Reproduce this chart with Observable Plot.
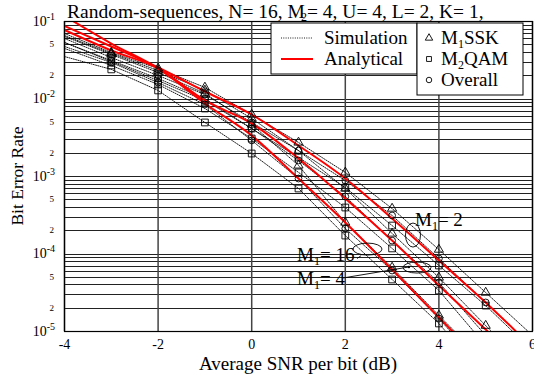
<!DOCTYPE html>
<html><head><meta charset="utf-8">
<script src="https://cdn.jsdelivr.net/npm/d3@7"></script>
<script src="https://cdn.jsdelivr.net/npm/@observablehq/plot@0.6"></script>
<style>
html,body{margin:0;padding:0;background:#fff;}
#chart{width:534px;height:381px;position:relative;}
</style></head><body><div id="chart"></div>
<script>
// ---------- data ----------
const snr = [-4, -3, -2, -1, 0, 1, 2, 3, 4, 5, 6];
const markerRange = [-3, 5];
const m1Values = [2, 4, 16];

// analytical curves
const analyticM1_2  = [0.0875, 0.0476, 0.0255, 0.0125, 0.00631, 0.00251, 9.42e-4, 2.87e-4, 8.24e-5, 2.37e-5, 6.2e-6];
const analyticM1_4  = [0.0777, 0.0423, 0.0248, 0.00957, 0.00483, 0.00171, 5.2e-4, 1.49e-4, 3.93e-5, 1.06e-5, 2.9e-6];
const analyticM1_16 = [0.118, 0.052, 0.0248, 0.00875, 0.00338, 9.4e-4, 2.55e-4, 6.3e-5, 1.52e-5, 3.6e-6, 8e-7];

// simulation curves
const simM1_2_SSK     = [0.070, 0.0398, 0.0248, 0.0141, 0.00631, 0.00275, 0.00113, 3.86e-4, 1.14e-4, 3.18e-5, 8.9e-6];
const simM1_2_Overall = [0.0604, 0.0343, 0.0201, 0.0114, 0.00498, 0.00216, 8.88e-4, 3.14e-4, 8.75e-5, 2.37e-5, 6.3e-6];
const simM1_2_QAM     = [0.0536, 0.0305, 0.0173, 0.00957, 0.00416, 0.00176, 7.21e-4, 2.33e-4, 7.11e-5, 2.16e-5, 5.7e-6];
const simM1_4_SSK     = [0.0659, 0.0387, 0.0233, 0.0129, 0.00560, 0.00216, 7.0e-4, 1.84e-4, 4.98e-5, 1.19e-5, 3.0e-6];
const simM1_4_Overall = [0.0536, 0.0314, 0.0184, 0.0101, 0.00416, 0.00161, 5.52e-4, 1.49e-4, 4.29e-5, 8.9e-6, 2.2e-6];
const simM1_4_QAM     = [0.0449, 0.0271, 0.0154, 0.00754, 0.00309, 0.00113, 3.98e-4, 1.18e-4, 3.38e-5, 6.6e-6, 1.6e-6];
const simM1_16_SSK    = [0.064, 0.0375, 0.0220, 0.0118, 0.00469, 0.00139, 2.55e-4, 6.7e-5, 1.61e-5, 3.98e-6, 9.6e-7];
const simM1_16_Overall= [0.0476, 0.0296, 0.0163, 0.00849, 0.00292, 9.42e-4, 2.13e-4, 6.12e-5, 1.47e-5, 3.14e-6, 7.6e-7];
const simM1_16_QAM    = [0.0353, 0.0241, 0.0129, 0.00498, 0.00198, 7.0e-4, 1.73e-4, 4.69e-5, 1.27e-5, 2.48e-6, 6.0e-7];

const xTicks = [-4, -2, 0, 2, 4, 6];
const yTicks = [1e-5, 2e-5, 5e-5, 1e-4, 2e-4, 5e-4, 1e-3, 2e-3, 5e-3, 1e-2, 2e-2, 5e-2, 1e-1];
const gridMantissas = [1, 2, 3, 4, 5, 6, 7, 8, 9];
const gridDecades = [-5, -4, -3, -2];

const titleParts = ["Random-sequences, N= 16, M", "2", "= 4, U= 4, L= 2, K= 1,"];
const xLabel = "Average SNR per bit (dB)";
const yLabel = "Bit Error Rate";
const legendLines = ["Simulation", "Analytical"];
const legendSymbols = [["M", "1", "SSK"], ["M", "2", "QAM"], ["Overall"]];

// annotations (data units)
const annotLabels = [
  {m: "2",  x: 3.50, y: 2.26e-4},
  {m: "16", x: 0.98, y: 8.0e-5},
  {m: "4",  x: 0.98, y: 3.93e-5}
];
const annotEllipses = [
  {x: 3.457, y: 1.73e-4, rx: 7.5, ry: 12},
  {x: 2.485, y: 1.14e-4, rx: 14.5, ry: 6},
  {x: 3.543, y: 6.59e-5, rx: 14, ry: 5.5}
];
const annotPointers = [
  {x1: 1.96, y1: 4.83e-5, x2: 3.37, y2: 6.7e-5},
  {x1: 2.26, y1: 8.6e-5, x2: 2.35, y2: 9.4e-5}
];

// ---------- tables ----------
const analyticArrays = [analyticM1_2, analyticM1_4, analyticM1_16];
const simArrays = {
  SSK: [simM1_2_SSK, simM1_4_SSK, simM1_16_SSK],
  QAM: [simM1_2_QAM, simM1_4_QAM, simM1_16_QAM],
  Overall: [simM1_2_Overall, simM1_4_Overall, simM1_16_Overall]
};
const analyticRows = m1Values.flatMap((m, i) => snr.map((x, j) => ({x, y: analyticArrays[i][j], m})));
const simRows = Object.entries(simArrays).flatMap(([type, arrs]) =>
  m1Values.flatMap((m, i) => snr.map((x, j) => ({x, y: arrs[i][j], m, type, key: type + m}))));
const markerRows = simRows.filter(d => d.x >= markerRange[0] && d.x <= markerRange[1]);
const yGrid = gridDecades.flatMap(e => gridMantissas.map(k => k * Math.pow(10, e))).concat([1e-1]);

const FONT = "Liberation Serif, Times New Roman, serif";
const BIG = 19;

const chart = Plot.plot({
  width: 534, height: 381,
  marginLeft: 64, marginRight: 2, marginTop: 21, marginBottom: 50,
  style: {fontFamily: FONT, fontSize: "14px", background: "#fff", overflow: "visible"},
  x: {domain: [-4, 6]},
  y: {type: "log", domain: [1e-5, 1e-1], axis: null},
  marks: [
    Plot.ruleY(yGrid, {stroke: "#222", strokeWidth: 1, shapeRendering: "crispEdges"}),
    Plot.ruleX(xTicks, {stroke: "#444", strokeWidth: 1.5}),
    Plot.line(simRows, {x: "x", y: "y", z: "key", stroke: "#000", strokeWidth: 0.9, strokeDasharray: "1,1.3", clip: true}),
    Plot.line(analyticRows, {x: "x", y: "y", z: "m", stroke: "#ff0000", strokeWidth: 2, curve: "monotone-x", clip: true}),
    Plot.dot(markerRows.filter(d => d.type === "SSK"), {x: "x", y: "y", symbol: "triangle", r: 3.4, stroke: "#000", fill: "none", strokeWidth: 0.9, clip: true}),
    Plot.dot(markerRows.filter(d => d.type === "Overall"), {x: "x", y: "y", symbol: "circle", r: 3.4, stroke: "#000", fill: "none", strokeWidth: 0.9, clip: true}),
    Plot.dot(markerRows.filter(d => d.type === "QAM"), {x: "x", y: "y", symbol: "square", r: 3.8, stroke: "#000", fill: "none", strokeWidth: 0.9, clip: true}),
    Plot.frame({stroke: "#000", strokeWidth: 1.2}),
    Plot.axisX(xTicks, {tickSize: 0, tickPadding: 8, fontSize: 14, tickFormat: d => String(d), label: null})
  ]
});

document.getElementById("chart").appendChild(chart);
const svg = d3.select(chart);
const sx = chart.scale("x").apply, sy = chart.scale("y").apply;
const x0 = sx(-4);

// y tick labels (log decades with superscripts, minor 2 / 5)
const yl = svg.append("g").attr("font-family", FONT).attr("text-anchor", "end").attr("fill", "#000");
yTicks.forEach(d => {
  const e = Math.log10(d);
  const isDecade = Math.abs(e - Math.round(e)) < 1e-9;
  if (isDecade) {
    const t = yl.append("text").attr("x", x0 - 9).attr("y", sy(d)).attr("dy", "0.35em").attr("font-size", 14);
    t.append("tspan").text("10");
    t.append("tspan").attr("dy", "-0.6em").attr("font-size", 10).text(String(Math.round(e)));
  } else {
    const m = Math.round(d / Math.pow(10, Math.floor(e + 1e-9)));
    yl.append("text").attr("x", x0 - 10).attr("y", sy(d)).attr("dy", "0.35em").attr("font-size", 9).text(String(m));
  }
});

// title
const title = svg.append("text").attr("x", 67).attr("y", 17.5).attr("text-anchor", "start")
  .attr("font-family", FONT).attr("font-size", 19.5).attr("fill", "#000");
title.append("tspan").text(titleParts[0]);
title.append("tspan").attr("dx", -4).attr("dy", 3).attr("font-size", 12).text(titleParts[1]);
title.append("tspan").attr("dy", -3).text(titleParts[2]);

// axis labels
svg.append("text").attr("x", 298).attr("y", 370).attr("text-anchor", "middle")
  .attr("font-family", FONT).attr("font-size", BIG).text(xLabel);
svg.append("text").attr("transform", "translate(23,176) rotate(-90)").attr("text-anchor", "middle")
  .attr("font-family", FONT).attr("font-size", 17.5).text(yLabel);

// annotations
const ag = svg.append("g").attr("font-family", FONT).attr("font-size", BIG).attr("text-anchor", "start");
annotEllipses.forEach(e => ag.append("ellipse").attr("cx", sx(e.x)).attr("cy", sy(e.y))
  .attr("rx", e.rx).attr("ry", e.ry).attr("fill", "none").attr("stroke", "#000").attr("stroke-width", 0.9));
annotPointers.forEach(p => ag.append("line").attr("x1", sx(p.x1)).attr("y1", sy(p.y1))
  .attr("x2", sx(p.x2)).attr("y2", sy(p.y2)).attr("stroke", "#000").attr("stroke-width", 0.9));
ag.append("circle").attr("cx", sx(annotPointers[0].x2)).attr("cy", sy(annotPointers[0].y2)).attr("r", 1.2).attr("fill", "#000");
annotLabels.forEach(a => {
  const t = ag.append("text").attr("x", sx(a.x)).attr("y", sy(a.y));
  t.append("tspan").text("M");
  t.append("tspan").attr("dy", 4).attr("font-size", 12).text("1");
  t.append("tspan").attr("dy", -4).text("= " + a.m);
});

// legends
const lg = svg.append("g").attr("font-family", FONT).attr("font-size", BIG).attr("text-anchor", "start");
lg.append("rect").attr("x", 271).attr("y", 23).attr("width", 146).attr("height", 51)
  .attr("fill", "#fff").attr("stroke", "#000").attr("stroke-width", 1);
lg.append("rect").attr("x", 417).attr("y", 23).attr("width", 106).attr("height", 72)
  .attr("fill", "#fff").attr("stroke", "#000").attr("stroke-width", 1);
lg.append("line").attr("x1", 281).attr("x2", 313).attr("y1", 38).attr("y2", 38)
  .attr("stroke", "#000").attr("stroke-width", 0.9).attr("stroke-dasharray", "1,1.3");
lg.append("line").attr("x1", 281).attr("x2", 313).attr("y1", 59).attr("y2", 59)
  .attr("stroke", "#ff0000").attr("stroke-width", 2);
legendLines.forEach((s, i) => lg.append("text").attr("x", 324).attr("y", 44 + 21 * i).text(s));
const legSyms = [d3.symbolTriangle, d3.symbolSquare, d3.symbolCircle];
legendSymbols.forEach((parts, i) => {
  lg.append("path").attr("d", d3.symbol(legSyms[i], 24)()).attr("transform", `translate(429,${38 + 21 * i})`)
    .attr("fill", "none").attr("stroke", "#000").attr("stroke-width", 0.9);
  const t = lg.append("text").attr("x", 441).attr("y", 44 + 21 * i);
  if (parts.length === 3) {
    t.append("tspan").text(parts[0]);
    t.append("tspan").attr("dy", 4).attr("font-size", 12).text(parts[1]);
    t.append("tspan").attr("dy", -4).text(parts[2]);
  } else {
    t.text(parts[0]);
  }
});
</script>
</body></html>
